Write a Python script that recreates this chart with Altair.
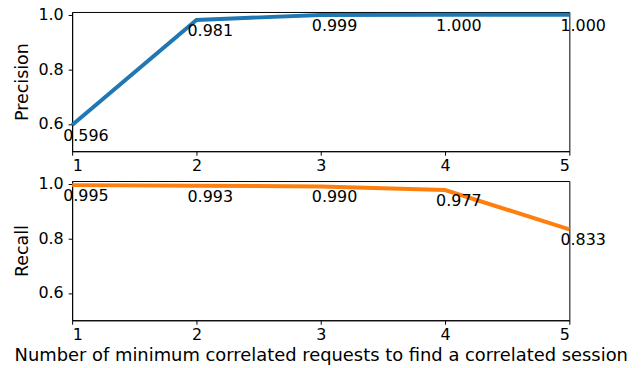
import altair as alt
import pandas as pd

x_vals = [1, 2, 3, 4, 5]
precision = [0.596, 0.981, 0.999, 1.000, 1.000]
recall = [0.995, 0.993, 0.990, 0.977, 0.833]
x_ticks = [1, 2, 3, 4, 5]
y_ticks = [0.6, 0.8, 1.0]
x_title = "Number of minimum correlated requests to find a correlated session"


def panel(values, color, ytitle, xtitle):
    df = pd.DataFrame({"x": x_vals, "v": values})
    base = alt.Chart(df).encode(
        x=alt.X(
            "x:Q",
            scale=alt.Scale(domain=[1, 5], nice=False, zero=False),
            axis=alt.Axis(values=x_ticks, format="d", title=xtitle,
                          titleFontSize=18),
        ),
        y=alt.Y(
            "v:Q",
            scale=alt.Scale(domain=[0.5, 1.01], nice=False, zero=False),
            axis=alt.Axis(values=y_ticks, format=".1f", title=ytitle),
        ),
    )
    line = base.mark_line(color=color, strokeWidth=4)
    text = base.mark_text(
        align="left", baseline="top", dx=-9, dy=3, fontSize=16,
        color="black", font="DejaVu Sans",
    ).encode(text=alt.Text("v:Q", format=".3f"))
    return (line + text).properties(width=500, height=140)


top = panel(precision, "#1f77b4", "Precision", None)
bottom = panel(recall, "#ff7f0e", "Recall", x_title)

chart = (
    alt.vconcat(top, bottom, spacing=30, bounds="flush")
    .properties(padding={"left": 4.5, "top": -3, "right": 5, "bottom": 0})
    .configure_axis(
        labelFontSize=16, titleFontSize=17.5, titleFontWeight="normal",
        labelColor="black", titleColor="black", domainColor="black",
        tickColor="black", tickSize=4, grid=False,
        labelFont="DejaVu Sans", titleFont="DejaVu Sans",
    )
    .configure_axisY(labelPadding=5, titlePadding=6)
    .configure_view(stroke="black", strokeWidth=1)
)

chart.save("out.html", embed_options={"renderer": "svg", "actions": False})
